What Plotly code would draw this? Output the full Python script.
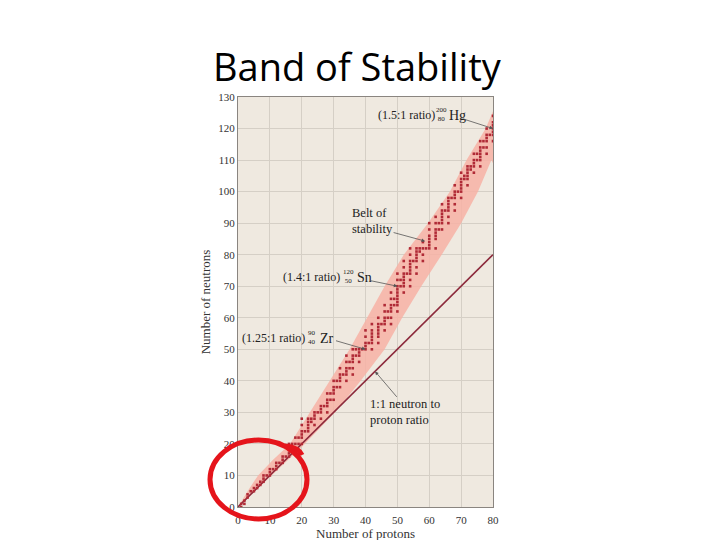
import plotly.graph_objects as go

# ---------------- data ----------------
# stable nuclides: proton number -> neutron numbers
stable_z = list(range(1, 81))
stable_n = [
    [0, 1], [1, 2], [3, 4], [5], [5, 6], [6, 7], [7, 8], [8, 9, 10], [10], [10, 11, 12],
    [12], [12, 13, 14], [14], [14, 15, 16], [16], [16, 17, 18, 20], [18, 20], [18, 20, 22], [20, 22], [20, 22, 23, 24, 26, 28],
    [24], [24, 25, 26, 27, 28], [27, 28], [26, 28, 29, 30], [30], [28, 30, 31, 32], [32], [30, 32, 33, 34, 36], [34, 36], [34, 36, 37, 38, 40],
    [38, 40], [38, 40, 41, 42, 44], [42], [40, 42, 43, 44, 46, 48], [44, 46], [42, 44, 46, 47, 48, 50], [48, 50], [46, 48, 49, 50], [50], [50, 51, 52, 54, 56],
    [52], [50, 52, 53, 54, 55, 56, 58], [], [52, 54, 55, 56, 57, 58, 60], [58], [56, 58, 59, 60, 62, 64], [60, 62], [58, 60, 62, 63, 64, 66, 68], [64, 66], [62, 64, 65, 66, 67, 68, 69, 70, 72, 74],
    [70, 72], [68, 70, 71, 72, 73, 74, 76, 78], [74], [70, 72, 74, 75, 76, 77, 78, 80, 82], [78], [74, 76, 78, 79, 80, 81, 82], [81, 82], [78, 80, 82, 84], [82], [82, 83, 84, 85, 86, 88, 90],
    [], [82, 85, 86, 87, 88, 90, 92], [88, 90], [88, 90, 91, 92, 93, 94, 96], [94], [90, 92, 94, 95, 96, 97, 98], [98], [94, 96, 98, 99, 100, 102], [100], [98, 100, 101, 102, 103, 104, 106],
    [104, 105], [102, 104, 105, 106, 107, 108], [107, 108], [106, 108, 109, 110, 112], [110, 112], [108, 110, 111, 112, 113, 114, 116], [114, 116], [112, 114, 116, 117, 118, 120], [118], [116, 118, 119, 120, 121, 122, 124],
]

# belt of stability outline (upper edge then lower edge)
belt_upper_z = [0, 3, 6.3, 11, 16.3, 22.6, 28.8, 35.0, 40.5, 46, 52, 59.6, 66.5, 71.7, 77.7, 80]
belt_upper_n = [0, 5, 10, 15, 20, 30, 40, 50, 60, 70, 80, 90, 100, 110, 120, 125.5]
belt_lower_z = [80, 79.5, 75.3, 70, 63.9, 57.5, 51.5, 46, 38.5, 30.4, 20, 10, 0]
belt_lower_n = [109, 110, 100, 90, 80, 70, 60, 50, 40, 30, 19, 9.5, 0]

ratio_line_z = [0, 80]
ratio_line_n = [0, 80]

x_ticks = [0, 10, 20, 30, 40, 50, 60, 70, 80]
y_ticks = [0, 10, 20, 30, 40, 50, 60, 70, 80, 90, 100, 110, 120, 130]

# ---------------- figure ----------------
pts_z, pts_n = [], []
for z, ns in zip(stable_z, stable_n):
    for n in ns:
        pts_z.append(z)
        pts_n.append(n)

fig = go.Figure()
fig.add_trace(go.Scatter(
    x=belt_upper_z + belt_lower_z, y=belt_upper_n + belt_lower_n,
    fill="toself", fillcolor="rgba(247,178,165,0.85)", mode="lines",
    line=dict(width=0), hoverinfo="skip", showlegend=False))
fig.add_trace(go.Scatter(
    x=ratio_line_z, y=ratio_line_n, mode="lines",
    line=dict(color="#8c2a3c", width=1.6), showlegend=False))
fig.add_trace(go.Scatter(
    x=pts_z, y=pts_n, mode="markers",
    marker=dict(symbol="square", size=2.6, color="#b02a36"), showlegend=False))

serif = "Liberation Serif, Times New Roman, serif"
axis_common = dict(
    showgrid=True, gridcolor="#d5cfc6", gridwidth=1,
    showline=True, linecolor="#8a8580", linewidth=1, mirror=True,
    ticks="", zeroline=False,
    tickfont=dict(family=serif, size=11, color="#333"),
)
fig.update_xaxes(range=[0, 80], tickvals=x_ticks, ticklabelstandoff=3, **axis_common,
                 title=dict(text="Number of protons", font=dict(family=serif, size=13, color="#333"), standoff=1))
fig.update_yaxes(range=[0, 130], tickvals=y_ticks, **axis_common,
                 title=dict(text="Number of neutrons", font=dict(family=serif, size=13, color="#333"), standoff=4))

ann = []
tf = dict(family=serif, size=12, color="#222")
bf = dict(family=serif, size=12.5, color="#222")
sf = dict(family=serif, size=7, color="#222")
ef = dict(family=serif, size=14, color="#222")

def label(x, y, text, font=tf, xanchor="left"):
    ann.append(dict(x=x, y=y, xref="x", yref="y", text=text, showarrow=False,
                    font=font, xanchor=xanchor, yanchor="middle", align="left"))

def iso(x, y, text):
    ann.append(dict(x=x, y=y, xref="x", yref="y", text=text, showarrow=False,
                    font=sf, xanchor="center", yanchor="middle", align="center"))

def arrow(x, y, ax, ay):
    ann.append(dict(x=x, y=y, xref="x", yref="y", text="", showarrow=True,
                    ax=ax, ay=ay, arrowhead=2, arrowsize=0.9, arrowwidth=0.8,
                    arrowcolor="#555"))

# Hg
label(62.4, 124.3, "(1.5:1 ratio)", xanchor="right")
iso(63.9, 124.5, "200<br>80")
label(65.5, 124.0, "Hg", font=ef)
arrow(80, 120, -31, -10)
# belt
label(35.0, 90.7, "Belt of<br>stability", font=bf)
arrow(58.7, 84.3, -33, -9)
# Sn
label(32.6, 72.9, "(1.4:1 ratio)", xanchor="right")
iso(34.6, 73.1, "120<br>50")
label(36.6, 72.7, "Sn", font=ef)
arrow(50, 70, -29, -6)
# Zr
label(21.6, 53.6, "(1.25:1 ratio)", xanchor="right")
iso(23.2, 53.8, "90<br>40")
label(25.0, 53.4, "Zr", font=ef)
arrow(40, 50, -31, -9)
# 1:1
label(40.8, 30.0, "1:1 neutron to<br>proton ratio", font=bf)
arrow(43, 43, 23, 27)

# paper coords from page pixels (plot area on the page: x 238-493, y 97-507)
def px(xp):
    return (xp - 238) / 255

def py(yp):
    return (507 - yp) / 410

# title
ann.append(dict(x=px(357.5), y=py(66), xref="paper", yref="paper",
                text="Band of Stability", showarrow=False,
                font=dict(family="Open Sans, Lato, sans-serif", size=38, color="#000"),
                xanchor="center", yanchor="middle"))

shapes = [
    dict(type="circle", xref="paper", yref="paper",
         x0=px(210), x1=px(307), y0=py(519), y1=py(440),
         line=dict(color="#e5141b", width=5)),
    dict(type="path", xref="paper", yref="paper",
         path=f"M {px(285)} {py(446)} Q {px(298)} {py(447)} {px(302)} {py(455)}",
         line=dict(color="#e5141b", width=5)),
]

# the page body adds an 8px offset; compensate in the margins
OFF = 8
fig.update_layout(
    width=720, height=540,
    margin=dict(l=238 - OFF, r=720 - (493 - OFF), t=97 - OFF, b=540 - (507 - OFF)),
    paper_bgcolor="white", plot_bgcolor="#efe9e0",
    annotations=ann, shapes=shapes,
    showlegend=False,
)
fig.write_html("out.html")
